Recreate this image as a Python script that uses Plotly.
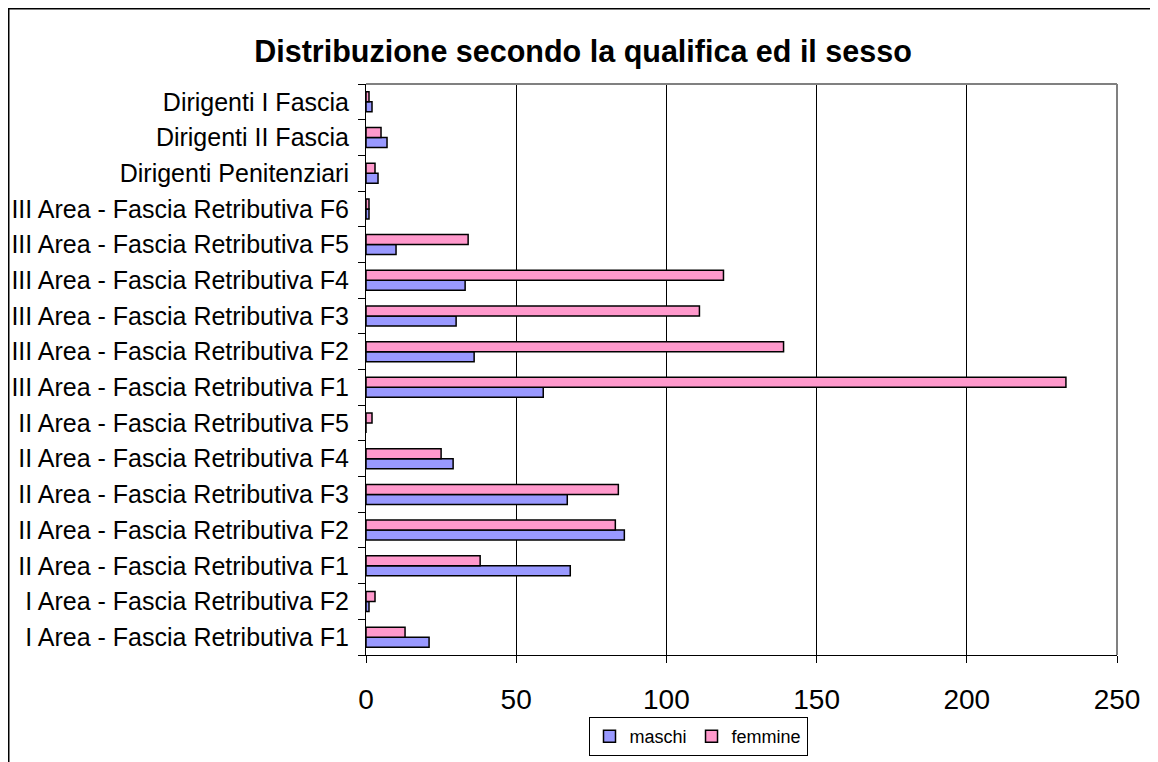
import plotly.graph_objects as go

categories = [
    "I Area - Fascia Retributiva F1",
    "I Area - Fascia Retributiva F2",
    "II Area - Fascia Retributiva F1",
    "II Area - Fascia Retributiva F2",
    "II Area - Fascia Retributiva F3",
    "II Area - Fascia Retributiva F4",
    "II Area - Fascia Retributiva F5",
    "III Area - Fascia Retributiva F1",
    "III Area - Fascia Retributiva F2",
    "III Area - Fascia Retributiva F3",
    "III Area - Fascia Retributiva F4",
    "III Area - Fascia Retributiva F5",
    "III Area - Fascia Retributiva F6",
    "Dirigenti Penitenziari",
    "Dirigenti II Fascia",
    "Dirigenti I Fascia",
]
maschi = [21, 1, 68, 86, 67, 29, 0, 59, 36, 30, 33, 10, 1, 4, 7, 2]
femmine = [13, 3, 38, 83, 84, 25, 2, 233, 139, 111, 119, 34, 1, 3, 5, 1]
x_ticks = [0, 50, 100, 150, 200, 250]

FONT = "Liberation Sans, Arial, sans-serif"

# figure is placed at (8, 8) by the page's body margin
W, H = 1150, 754
L, R, T, B = 358, 41, 76, 107
PW, PH = W - L - R, H - T - B

fig = go.Figure()
fig.add_trace(go.Bar(
    y=categories, x=maschi, orientation="h", name="maschi",
    marker=dict(color="#9999FF", line=dict(color="black", width=1.5)),
))
fig.add_trace(go.Bar(
    y=categories, x=femmine, orientation="h", name="femmine",
    marker=dict(color="#FF99CC", line=dict(color="black", width=1.5)),
))

fig.update_layout(
    width=W, height=H,
    margin=dict(l=L, r=R, t=T, b=B, pad=0, autoexpand=False),
    paper_bgcolor="white", plot_bgcolor="white",
    barmode="group", bargap=0.44, bargroupgap=0,
    font=dict(family=FONT, color="black"),
    title=dict(text="<b>Distribuzione secondo la qualifica ed il sesso</b>",
               x=0.5, xanchor="center", xref="container",
               y=1 - 43 / H, yanchor="middle", yref="container",
               font=dict(size=30.5, family=FONT, color="black")),
    showlegend=True,
    legend=dict(orientation="h", x=(698 - 8 - L) / PW, xanchor="center",
                y=-(717 - 8 - (H - B)) / PH, yanchor="top",
                bordercolor="black", borderwidth=1, bgcolor="white",
                font=dict(size=18, family=FONT), traceorder="normal",
                itemwidth=30),
    xaxis=dict(range=[0, 250], tickvals=x_ticks, ticktext=[str(v) for v in x_ticks],
               showgrid=True, gridcolor="black", gridwidth=1,
               showline=True, linecolor="black", linewidth=1,
               ticks="outside", ticklen=7, tickcolor="black",
               ticklabelstandoff=12, automargin=False,
               tickfont=dict(size=28, family=FONT), zeroline=False, fixedrange=True),
    yaxis=dict(type="category", categoryorder="array", categoryarray=categories,
               showline=True, linecolor="black", linewidth=1,
               ticks="outside", ticklen=7, tickcolor="black", tickson="boundaries",
               ticklabelstandoff=11, automargin=False,
               tickfont=dict(size=25, family=FONT), showgrid=False, fixedrange=True),
    shapes=[
        dict(type="line", xref="paper", yref="paper", x0=0, x1=1, y0=1, y1=1,
             line=dict(color="#808080", width=2)),
        dict(type="line", xref="paper", yref="paper", x0=1, x1=1, y0=0, y1=1,
             line=dict(color="#808080", width=2)),
        dict(type="rect", xref="paper", yref="paper",
             x0=(0.75 - L) / PW, x1=(W - 1 - L) / PW,
             y0=-(H + 10 - (H - B)) / PH, y1=1 + (T - 0.75) / PH,
             line=dict(color="black", width=1.5), fillcolor="rgba(0,0,0,0)", layer="below"),
    ],
)

fig.write_html("out.html")
